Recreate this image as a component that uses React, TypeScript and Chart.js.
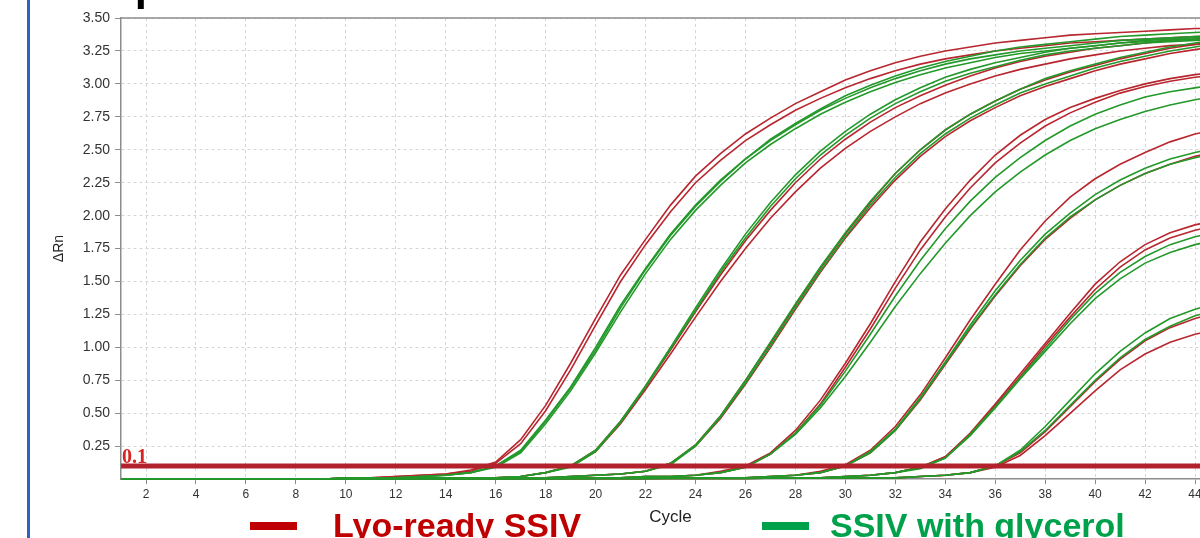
import React, { useEffect, useRef } from "react";
import { Chart, registerables } from "chart.js";

Chart.register(...registerables);

// ---------- data ----------
const cycles = [1, 2, 3, 4, 5, 6, 7, 8, 9, 10, 11, 12, 13, 14, 15, 16, 17, 18, 19, 20, 21, 22, 23, 24, 25, 26, 27, 28, 29, 30, 31, 32, 33, 34, 35, 36, 37, 38, 39, 40, 41, 42, 43, 44, 45];
const xTickValues = [2, 4, 6, 8, 10, 12, 14, 16, 18, 20, 22, 24, 26, 28, 30, 32, 34, 36, 38, 40, 42, 44];
const yTickValues = [0.25, 0.5, 0.75, 1.0, 1.25, 1.5, 1.75, 2.0, 2.25, 2.5, 2.75, 3.0, 3.25, 3.5];
const thresholdCycles = [1, 45];
const thresholdValues = [0.1, 0.1];

// Lyo-ready SSIV (red)
const lyo1a = [0, 0, 0, 0, 0, 0, 0, 0, 0, 0.01, 0.01, 0.02, 0.03, 0.04, 0.07, 0.13, 0.30, 0.56, 0.88, 1.22, 1.55, 1.82, 2.08, 2.30, 2.47, 2.62, 2.74, 2.85, 2.94, 3.03, 3.10, 3.16, 3.21, 3.25, 3.28, 3.31, 3.33, 3.35, 3.37, 3.38, 3.39, 3.40, 3.41, 3.42, 3.42];
const lyo1b = [0, 0, 0, 0, 0, 0, 0, 0, 0, 0.01, 0.01, 0.02, 0.03, 0.04, 0.06, 0.12, 0.27, 0.52, 0.83, 1.17, 1.50, 1.78, 2.03, 2.25, 2.42, 2.57, 2.69, 2.80, 2.89, 2.97, 3.04, 3.10, 3.15, 3.19, 3.22, 3.25, 3.27, 3.29, 3.31, 3.32, 3.33, 3.34, 3.35, 3.36, 3.36];
const lyo2a = [0, 0, 0, 0, 0, 0, 0, 0, 0, 0, 0, 0, 0.01, 0.01, 0.01, 0.01, 0.02, 0.05, 0.10, 0.22, 0.44, 0.70, 0.98, 1.27, 1.55, 1.81, 2.04, 2.25, 2.43, 2.58, 2.71, 2.82, 2.91, 2.99, 3.06, 3.12, 3.17, 3.21, 3.24, 3.27, 3.29, 3.31, 3.33, 3.34, 3.35];
const lyo2b = [0, 0, 0, 0, 0, 0, 0, 0, 0, 0, 0, 0, 0.01, 0.01, 0.01, 0.01, 0.02, 0.05, 0.10, 0.21, 0.42, 0.68, 0.95, 1.23, 1.50, 1.75, 1.98, 2.18, 2.36, 2.51, 2.64, 2.75, 2.85, 2.93, 3.00, 3.06, 3.11, 3.15, 3.19, 3.22, 3.25, 3.27, 3.29, 3.30, 3.31];
const lyo3a = [0, 0, 0, 0, 0, 0, 0, 0, 0, 0, 0, 0, 0, 0, 0.01, 0.01, 0.01, 0.01, 0.02, 0.03, 0.04, 0.06, 0.12, 0.26, 0.48, 0.75, 1.03, 1.32, 1.60, 1.86, 2.10, 2.32, 2.50, 2.65, 2.77, 2.87, 2.96, 3.03, 3.09, 3.14, 3.19, 3.23, 3.27, 3.30, 3.32];
const lyo3b = [0, 0, 0, 0, 0, 0, 0, 0, 0, 0, 0, 0, 0, 0, 0.01, 0.01, 0.01, 0.01, 0.02, 0.03, 0.04, 0.06, 0.12, 0.25, 0.46, 0.72, 1.00, 1.29, 1.57, 1.83, 2.06, 2.27, 2.45, 2.60, 2.72, 2.82, 2.91, 2.98, 3.04, 3.10, 3.15, 3.19, 3.23, 3.26, 3.29];
const lyo4a = [0, 0, 0, 0, 0, 0, 0, 0, 0, 0, 0, 0, 0, 0, 0, 0, 0, 0.01, 0.01, 0.01, 0.01, 0.02, 0.02, 0.03, 0.06, 0.10, 0.20, 0.37, 0.60, 0.88, 1.18, 1.50, 1.80, 2.05, 2.27, 2.46, 2.61, 2.73, 2.82, 2.89, 2.95, 3.00, 3.04, 3.07, 3.09];
const lyo4b = [0, 0, 0, 0, 0, 0, 0, 0, 0, 0, 0, 0, 0, 0, 0, 0, 0, 0.01, 0.01, 0.01, 0.01, 0.02, 0.02, 0.03, 0.05, 0.09, 0.19, 0.35, 0.57, 0.85, 1.14, 1.45, 1.74, 1.99, 2.21, 2.40, 2.55, 2.68, 2.78, 2.86, 2.93, 2.98, 3.02, 3.05, 3.07];
const lyo5a = [0, 0, 0, 0, 0, 0, 0, 0, 0, 0, 0, 0, 0, 0, 0, 0, 0, 0, 0, 0.01, 0.01, 0.01, 0.01, 0.01, 0.01, 0.01, 0.02, 0.03, 0.06, 0.11, 0.22, 0.40, 0.64, 0.92, 1.21, 1.48, 1.74, 1.96, 2.14, 2.28, 2.39, 2.48, 2.56, 2.62, 2.66];
const lyo5b = [0, 0, 0, 0, 0, 0, 0, 0, 0, 0, 0, 0, 0, 0, 0, 0, 0, 0, 0, 0.01, 0.01, 0.01, 0.01, 0.01, 0.01, 0.01, 0.02, 0.03, 0.05, 0.10, 0.20, 0.37, 0.60, 0.87, 1.14, 1.39, 1.62, 1.82, 1.98, 2.12, 2.23, 2.32, 2.39, 2.45, 2.49];
const lyo6a = [0, 0, 0, 0, 0, 0, 0, 0, 0, 0, 0, 0, 0, 0, 0, 0, 0, 0, 0, 0, 0, 0, 0.01, 0.01, 0.01, 0.01, 0.01, 0.01, 0.01, 0.02, 0.03, 0.05, 0.09, 0.17, 0.35, 0.57, 0.80, 1.03, 1.26, 1.48, 1.65, 1.78, 1.87, 1.93, 1.97];
const lyo6b = [0, 0, 0, 0, 0, 0, 0, 0, 0, 0, 0, 0, 0, 0, 0, 0, 0, 0, 0, 0, 0, 0, 0.01, 0.01, 0.01, 0.01, 0.01, 0.01, 0.01, 0.02, 0.03, 0.05, 0.09, 0.17, 0.34, 0.56, 0.78, 1.01, 1.23, 1.44, 1.61, 1.74, 1.83, 1.89, 1.93];
const lyo7a = [0, 0, 0, 0, 0, 0, 0, 0, 0, 0, 0, 0, 0, 0, 0, 0, 0, 0, 0, 0, 0, 0, 0, 0, 0, 0, 0.01, 0.01, 0.01, 0.01, 0.01, 0.01, 0.02, 0.03, 0.05, 0.10, 0.20, 0.36, 0.55, 0.74, 0.91, 1.05, 1.15, 1.22, 1.27];
const lyo7b = [0, 0, 0, 0, 0, 0, 0, 0, 0, 0, 0, 0, 0, 0, 0, 0, 0, 0, 0, 0, 0, 0, 0, 0, 0, 0, 0.01, 0.01, 0.01, 0.01, 0.01, 0.01, 0.02, 0.03, 0.05, 0.09, 0.18, 0.33, 0.50, 0.67, 0.83, 0.95, 1.04, 1.10, 1.14];

// SSIV with glycerol (green)
const glyc1a = [0, 0, 0, 0, 0, 0, 0, 0, 0, 0.01, 0.01, 0.01, 0.02, 0.03, 0.05, 0.10, 0.22, 0.45, 0.70, 1.00, 1.32, 1.60, 1.86, 2.08, 2.27, 2.43, 2.57, 2.69, 2.80, 2.89, 2.97, 3.04, 3.10, 3.15, 3.19, 3.22, 3.25, 3.27, 3.29, 3.31, 3.33, 3.34, 3.35, 3.36, 3.37];
const glyc1b = [0, 0, 0, 0, 0, 0, 0, 0, 0, 0.01, 0.01, 0.01, 0.02, 0.03, 0.05, 0.09, 0.20, 0.42, 0.67, 0.96, 1.27, 1.56, 1.82, 2.04, 2.23, 2.40, 2.54, 2.66, 2.77, 2.86, 2.94, 3.01, 3.07, 3.12, 3.16, 3.20, 3.23, 3.25, 3.27, 3.29, 3.31, 3.32, 3.33, 3.34, 3.35];
const glyc1c = [0, 0, 0, 0, 0, 0, 0, 0, 0, 0.01, 0.01, 0.01, 0.02, 0.03, 0.05, 0.10, 0.21, 0.44, 0.69, 0.98, 1.30, 1.59, 1.85, 2.07, 2.26, 2.43, 2.58, 2.70, 2.81, 2.91, 2.99, 3.06, 3.12, 3.17, 3.21, 3.25, 3.28, 3.30, 3.32, 3.34, 3.36, 3.37, 3.38, 3.39, 3.40];
const glyc2a = [0, 0, 0, 0, 0, 0, 0, 0, 0, 0, 0, 0, 0.01, 0.01, 0.01, 0.01, 0.02, 0.05, 0.10, 0.22, 0.44, 0.71, 1.00, 1.30, 1.59, 1.86, 2.10, 2.31, 2.49, 2.64, 2.77, 2.88, 2.97, 3.05, 3.11, 3.16, 3.20, 3.24, 3.27, 3.29, 3.31, 3.33, 3.34, 3.35, 3.36];
const glyc2b = [0, 0, 0, 0, 0, 0, 0, 0, 0, 0, 0, 0, 0.01, 0.01, 0.01, 0.01, 0.02, 0.05, 0.09, 0.21, 0.43, 0.70, 0.99, 1.28, 1.57, 1.83, 2.07, 2.28, 2.46, 2.61, 2.74, 2.85, 2.94, 3.02, 3.08, 3.13, 3.18, 3.22, 3.25, 3.27, 3.29, 3.31, 3.32, 3.33, 3.34];
const glyc3a = [0, 0, 0, 0, 0, 0, 0, 0, 0, 0, 0, 0, 0, 0, 0.01, 0.01, 0.01, 0.01, 0.02, 0.03, 0.04, 0.06, 0.12, 0.26, 0.48, 0.75, 1.04, 1.33, 1.61, 1.87, 2.11, 2.32, 2.50, 2.65, 2.77, 2.87, 2.96, 3.04, 3.10, 3.15, 3.20, 3.24, 3.28, 3.31, 3.34];
const glyc3b = [0, 0, 0, 0, 0, 0, 0, 0, 0, 0, 0, 0, 0, 0, 0.01, 0.01, 0.01, 0.01, 0.02, 0.03, 0.04, 0.06, 0.11, 0.25, 0.47, 0.73, 1.01, 1.30, 1.58, 1.84, 2.08, 2.29, 2.47, 2.62, 2.74, 2.84, 2.93, 3.00, 3.06, 3.12, 3.17, 3.21, 3.25, 3.28, 3.31];
const glyc4a = [0, 0, 0, 0, 0, 0, 0, 0, 0, 0, 0, 0, 0, 0, 0, 0, 0, 0.01, 0.01, 0.01, 0.01, 0.02, 0.02, 0.03, 0.05, 0.09, 0.19, 0.35, 0.56, 0.82, 1.10, 1.39, 1.66, 1.90, 2.11, 2.29, 2.44, 2.57, 2.68, 2.77, 2.84, 2.90, 2.94, 2.97, 3.00];
const glyc4b = [0, 0, 0, 0, 0, 0, 0, 0, 0, 0, 0, 0, 0, 0, 0, 0, 0, 0.01, 0.01, 0.01, 0.01, 0.02, 0.02, 0.03, 0.05, 0.09, 0.19, 0.34, 0.54, 0.78, 1.04, 1.31, 1.56, 1.79, 2.00, 2.18, 2.33, 2.46, 2.57, 2.66, 2.73, 2.79, 2.84, 2.88, 2.91];
const glyc5a = [0, 0, 0, 0, 0, 0, 0, 0, 0, 0, 0, 0, 0, 0, 0, 0, 0, 0, 0, 0.01, 0.01, 0.01, 0.01, 0.01, 0.01, 0.01, 0.02, 0.03, 0.05, 0.10, 0.21, 0.38, 0.62, 0.89, 1.17, 1.43, 1.66, 1.86, 2.02, 2.16, 2.27, 2.36, 2.43, 2.48, 2.52];
const glyc5b = [0, 0, 0, 0, 0, 0, 0, 0, 0, 0, 0, 0, 0, 0, 0, 0, 0, 0, 0, 0.01, 0.01, 0.01, 0.01, 0.01, 0.01, 0.01, 0.02, 0.03, 0.05, 0.10, 0.20, 0.37, 0.61, 0.88, 1.15, 1.40, 1.63, 1.83, 1.99, 2.12, 2.23, 2.32, 2.39, 2.44, 2.48];
const glyc6a = [0, 0, 0, 0, 0, 0, 0, 0, 0, 0, 0, 0, 0, 0, 0, 0, 0, 0, 0, 0, 0, 0, 0.01, 0.01, 0.01, 0.01, 0.01, 0.01, 0.01, 0.02, 0.03, 0.05, 0.09, 0.16, 0.34, 0.55, 0.77, 0.99, 1.21, 1.41, 1.57, 1.69, 1.78, 1.84, 1.88];
const glyc6b = [0, 0, 0, 0, 0, 0, 0, 0, 0, 0, 0, 0, 0, 0, 0, 0, 0, 0, 0, 0, 0, 0, 0.01, 0.01, 0.01, 0.01, 0.01, 0.01, 0.01, 0.02, 0.03, 0.05, 0.08, 0.16, 0.33, 0.54, 0.76, 0.97, 1.18, 1.37, 1.52, 1.64, 1.72, 1.78, 1.82];
const glyc7a = [0, 0, 0, 0, 0, 0, 0, 0, 0, 0, 0, 0, 0, 0, 0, 0, 0, 0, 0, 0, 0, 0, 0, 0, 0, 0, 0.01, 0.01, 0.01, 0.01, 0.01, 0.01, 0.02, 0.03, 0.05, 0.10, 0.22, 0.40, 0.60, 0.80, 0.97, 1.11, 1.22, 1.29, 1.34];
const glyc7b = [0, 0, 0, 0, 0, 0, 0, 0, 0, 0, 0, 0, 0, 0, 0, 0, 0, 0, 0, 0, 0, 0, 0, 0, 0, 0, 0.01, 0.01, 0.01, 0.01, 0.01, 0.01, 0.02, 0.03, 0.05, 0.10, 0.21, 0.37, 0.56, 0.75, 0.92, 1.06, 1.16, 1.24, 1.29];

const lyoCurves = [lyo1a, lyo1b, lyo2a, lyo2b, lyo3a, lyo3b, lyo4a, lyo4b, lyo5a, lyo5b, lyo6a, lyo6b, lyo7a, lyo7b];
const glycCurves = [glyc1a, glyc1b, glyc1c, glyc2a, glyc2b, glyc3a, glyc3b, glyc4a, glyc4b, glyc5a, glyc5b, glyc6a, glyc6b, glyc7a, glyc7b];

const seriesNames = ["Lyo-ready SSIV", "SSIV with glycerol"];
const thresholdLabel = "0.1";
const titleText = "qPCR";

// ---------- styles ----------
const RED = "#b8262f";
const GREEN = "#23992a";
const THRESH = "#b3222c";
const LEGEND_RED = "#c00000";
const LEGEND_GREEN = "#00a14b";
const FONT = "'Liberation Sans', Arial, sans-serif";

const frameTop = {
  id: "frameTop",
  beforeDatasetsDraw(chart: any) {
    const { ctx, chartArea } = chart;
    ctx.save();
    ctx.strokeStyle = "#8c8c8c";
    ctx.lineWidth = 1.5;
    ctx.beginPath();
    ctx.moveTo(chartArea.left, chartArea.top);
    ctx.lineTo(chartArea.right, chartArea.top);
    ctx.stroke();
    ctx.restore();
  },
};

export default function App() {
  const ref = useRef<HTMLCanvasElement>(null);

  useEffect(() => {
    document.body.style.margin = "0";
    const toPoints = (arr: number[]) => arr.map((v, i) => ({ x: cycles[i], y: v }));
    const datasets: any[] = [
      {
        label: "Threshold",
        data: thresholdCycles.map((c, i) => ({ x: c, y: thresholdValues[i] })),
        borderColor: THRESH,
        borderWidth: 5,
        pointRadius: 0,
      },
      ...glycCurves.map((arr, k) => ({
        label: `${seriesNames[1]} ${k + 1}`,
        data: toPoints(arr),
        borderColor: GREEN,
        borderWidth: 1.6,
        pointRadius: 0,
        tension: 0,
      })),
      ...lyoCurves.map((arr, k) => ({
        label: `${seriesNames[0]} ${k + 1}`,
        data: toPoints(arr),
        borderColor: RED,
        borderWidth: 1.6,
        pointRadius: 0,
        tension: 0,
      })),
    ];

    const chart = new Chart(ref.current as HTMLCanvasElement, {
      type: "line",
      data: { datasets },
      plugins: [frameTop],
      options: {
        animation: false,
        responsive: false,
        maintainAspectRatio: false,
        devicePixelRatio: 1,
        layout: { padding: { left: 44, top: 18, right: 20, bottom: 10 } },
        plugins: { legend: { display: false }, tooltip: { enabled: false } },
        elements: { line: { fill: false } },
        scales: {
          x: {
            type: "linear",
            min: 1,
            max: 45,
            afterBuildTicks: (axis: any) => {
              axis.ticks = xTickValues.map((v) => ({ value: v }));
            },
            ticks: {
              autoSkip: false,
              maxRotation: 0,
              padding: 3,
              color: "#333",
              font: { family: FONT, size: 12 },
            },
            grid: { color: "#d6d6d6", lineWidth: 1, tickLength: 5, tickColor: "#8c8c8c" },
            border: { color: "#8c8c8c", width: 1.5, dash: [3, 3] },
            title: {
              display: true,
              text: "Cycle",
              color: "#222",
              font: { family: FONT, size: 17 },
              padding: { top: 3, bottom: 0 },
            },
          },
          y: {
            type: "linear",
            min: 0,
            max: 3.5,
            afterBuildTicks: (axis: any) => {
              axis.ticks = yTickValues.map((v) => ({ value: v }));
            },
            ticks: {
              padding: 5,
              color: "#333",
              font: { family: FONT, size: 14 },
              callback: (v: any) => Number(v).toFixed(2),
            },
            grid: { color: "#d6d6d6", lineWidth: 1, tickLength: 6, tickColor: "#8c8c8c" },
            border: { color: "#8c8c8c", width: 1.5, dash: [3, 3] },
            title: {
              display: true,
              text: "ΔRn",
              color: "#222",
              font: { family: FONT, size: 14 },
              padding: { top: 7, bottom: 10 },
            },
          },
        },
      } as any,
    });
    return () => chart.destroy();
  }, []);

  return (
    <div
      style={{
        position: "fixed",
        left: 0,
        top: 0,
        width: 1200,
        height: 538,
        overflow: "hidden",
        background: "#fff",
      }}
    >
      <canvas
        ref={ref}
        width={1240}
        height={538}
        style={{ position: "absolute", left: 0, top: 0, width: 1240, height: 538 }}
      />
      <div style={{ position: "absolute", left: 27, top: 0, width: 3, height: 538, background: "#2a66c0" }} />
      <div
        style={{
          position: "absolute",
          left: 120,
          top: -37,
          font: `bold 44px ${FONT}`,
          lineHeight: "44px",
          color: "#000",
          whiteSpace: "nowrap",
        }}
      >
        {titleText}
      </div>
      <div
        style={{
          position: "absolute",
          left: 122,
          top: 446,
          font: "bold 20px 'Liberation Serif', 'Times New Roman', serif",
          lineHeight: "20px",
          color: "#d92323",
        }}
      >
        {thresholdLabel}
      </div>
      <div style={{ position: "absolute", left: 250, top: 522, width: 47, height: 8, background: LEGEND_RED }} />
      <div
        style={{
          position: "absolute",
          left: 333,
          top: 508,
          font: `bold 34px ${FONT}`,
          lineHeight: "34px",
          color: LEGEND_RED,
          whiteSpace: "nowrap",
        }}
      >
        {seriesNames[0]}
      </div>
      <div style={{ position: "absolute", left: 762, top: 522, width: 47, height: 8, background: LEGEND_GREEN }} />
      <div
        style={{
          position: "absolute",
          left: 830,
          top: 508,
          font: `bold 34px ${FONT}`,
          lineHeight: "34px",
          color: LEGEND_GREEN,
          whiteSpace: "nowrap",
        }}
      >
        {seriesNames[1]}
      </div>
    </div>
  );
}
